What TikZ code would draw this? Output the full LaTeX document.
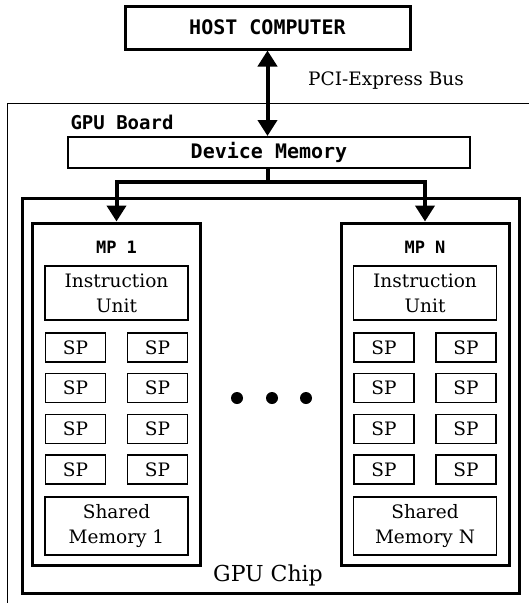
\documentclass[tikz,border=0pt]{standalone}
\usepackage{fontspec}
\setmainfont{DejaVu Serif}
\newfontfamily\gothfont{DejaVu Sans Mono}
\usetikzlibrary{arrows.meta}

\tikzset{
  gothbox/.style={draw, line width=2.5pt, inner sep=0, font=\gothfont\bfseries\fontsize{20}{22}\selectfont},
  unitbox/.style={draw, line width=1.6pt, inner sep=0, align=center, font=\fontsize{18.5}{25}\selectfont},
  spbox/.style={unitbox, minimum width=60, minimum height=29},
  mpbox/.style={draw, line width=3pt, inner sep=0, minimum width=168, minimum height=342},
  bus/.style={line width=4pt, -{Triangle[width=19pt,length=16pt]}},
  dot/.style={circle, fill, inner sep=0, minimum size=12}
}

\begin{document}
\begin{tikzpicture}[x=1pt,y=-1pt]
  \useasboundingbox (0,0) rectangle (529,603);

  % board and chip
  \draw[line width=1pt] (7,603) -- (7,103) -- (529,103);
  \node[font=\gothfont\bfseries\fontsize{19}{22}\selectfont] (board) at (122,122) {GPU Board};
  \draw[line width=3pt] (22,198) rectangle (519,593);
  \node[font=\fontsize{22}{26}\selectfont] (chip) at (268,575) {GPU Chip};

  \node[gothbox, line width=3pt, minimum width=285, minimum height=43] (host) at (267.5,27.5) {HOST COMPUTER};
  \node[gothbox, line width=2pt, minimum width=402, minimum height=31] (devmem) at (269,152.5) {Device Memory};
  \node[font=\fontsize{18.5}{22}\selectfont] (pcie) at (386,81) {PCI-Express Bus};

  \draw[bus, {Triangle[width=19pt,length=16pt]}-{Triangle[width=19pt,length=16pt]}] (host.south) -- (host.south |- devmem.north);

  % multiprocessors
  \foreach \name/\cx/\lbl in {mpa/116.5/1, mpn/425/N} {
    \node[mpbox] (\name) at (\cx,394) {};
    \node[font=\gothfont\bfseries\fontsize{17}{20}\selectfont] (\name-title) at (\cx,247) {MP \lbl};
    \node[unitbox, minimum width=143, minimum height=54] (\name-iu) at (\cx,293) {Instruction\\Unit};
    \foreach \row/\y in {1/347.5, 2/388, 3/429, 4/469.5} {
      \node[spbox] (\name-sp\row l) at (\cx-41,\y) {SP};
      \node[spbox] (\name-sp\row r) at (\cx+41,\y) {SP};
    }
    \node[unitbox, minimum width=143, minimum height=58] (\name-sm) at (\cx,526) {Shared\\Memory \lbl};
  }

  \coordinate (split) at (host.south |- 0,182);
  \draw[line width=4pt] (host.south |- devmem.south) -- (split);
  \draw[bus] (split) -| (mpa.north);
  \draw[bus] (split) -| (mpn.north);

  \node[dot] (dot1) at (237,398) {};
  \node[dot] (dot2) at (272,398) {};
  \node[dot] (dot3) at (306,398) {};
\end{tikzpicture}
\end{document}
